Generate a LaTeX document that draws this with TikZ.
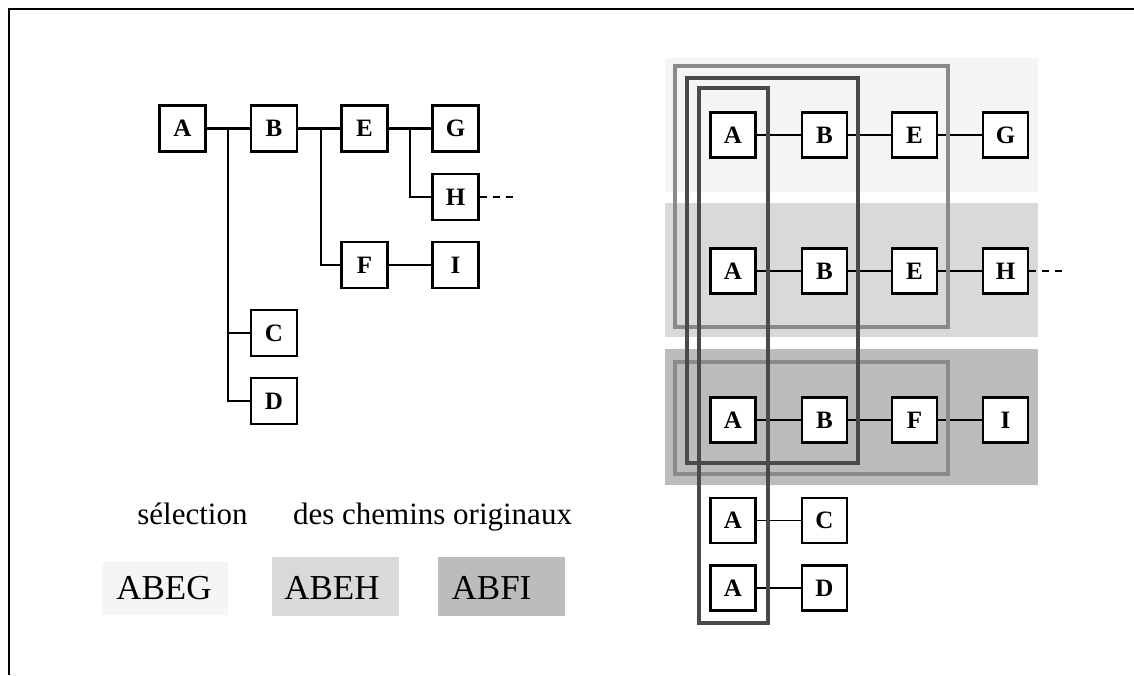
\documentclass[tikz,border=0pt]{standalone}
\usepackage{fontspec}
\setmainfont{Liberation Serif}
\definecolor{bandA}{HTML}{F5F5F5}
\definecolor{bandB}{HTML}{D9D9D9}
\definecolor{bandC}{HTML}{BCBCBC}
\definecolor{outgray}{HTML}{8A8A8A}
\definecolor{outdark}{HTML}{4A4A4A}
\tikzset{
  lbox/.style={draw, fill=white, line width=2.3pt, minimum width=46pt, minimum height=46pt, inner sep=0pt, font=\fontsize{25}{25}\selectfont\bfseries},
  rbox/.style={draw, fill=white, line width=2.1pt, minimum width=45pt, minimum height=45pt, inner sep=0pt, font=\fontsize{25}{25}\selectfont\bfseries},
  lline/.style={line width=2.2pt},
  rline/.style={line width=1.9pt},
  dline/.style={line width=2pt, dash pattern=on 7pt off 6pt},
  caption/.style={inner sep=0pt, anchor=base, font=\fontsize{31}{31}\selectfont},
  pathlbl/.style={inner sep=0pt, anchor=base, font=\fontsize{35}{35}\selectfont},
  outline/.style={line width=3.6pt}
}
\begin{document}
\begin{tikzpicture}[x=1pt,y=-1pt]
\useasboundingbox (0,0) rectangle (1134,675);
% frame
\draw[line width=2.5pt] (9,675) -- (9,9) -- (1134,9);

% ---------- left tree ----------
\node[lbox] (A) at (182.5,128.5) {A};
\node[lbox] (B) at (274,128.5) {B};
\node[lbox] (E) at (364.5,128.5) {E};
\node[lbox] (G) at (455.5,128.5) {G};
\node[lbox] (H) at (455.5,197) {H};
\node[lbox] (F) at (364.5,265) {F};
\node[lbox] (I) at (455.5,265) {I};
\node[lbox] (C) at (274,333) {C};
\node[lbox] (D) at (274,401) {D};
\coordinate (busA) at (228,128.5);
\coordinate (busB) at (321,128.5);
\coordinate (busE) at (410,128.5);
\coordinate (Hend) at (517,197);
\draw[lline] (A) -- (B);
\draw[lline] (busA) |- (D.west);
\draw[lline] (busA |- C) -- (C.west);
\draw[lline] (B) -- (E);
\draw[lline] (busB) |- (F.west);
\draw[lline] (E) -- (G);
\draw[lline] (busE) |- (H.west);
\draw[lline] (F) -- (I);
\draw[dline] (H.east) -- (Hend);

% captions
\node[caption] (sel) at (192.5,524) {sélection};
\node[caption] (des) at (432.5,524) {des chemins originaux};
\fill[bandA] (102,562) rectangle (228,615);
\fill[bandB] (272,557) rectangle (399,616);
\fill[bandC] (438,557) rectangle (565,616);
\node[pathlbl] (p1) at (164,599) {ABEG};
\node[pathlbl] (p2) at (332,599) {ABEH};
\node[pathlbl] (p3) at (491.5,599) {ABFI};

% ---------- right side ----------
\fill[bandA] (665,58) rectangle (1038,192);
\fill[bandB] (665,203) rectangle (1038,337);
\fill[bandC] (665,349) rectangle (1038,485);

\node[rbox] (A1) at (733,135) {A};
\node[rbox] (B1) at (824.5,135) {B};
\node[rbox] (E1) at (914.5,135) {E};
\node[rbox] (G1) at (1005.5,135) {G};
\node[rbox] (A2) at (733,271) {A};
\node[rbox] (B2) at (824.5,271) {B};
\node[rbox] (E2) at (914.5,271) {E};
\node[rbox] (H2) at (1005.5,271) {H};
\node[rbox] (A3) at (733,420) {A};
\node[rbox] (B3) at (824.5,420) {B};
\node[rbox] (F3) at (914.5,420) {F};
\node[rbox] (I3) at (1005.5,420) {I};
\node[rbox] (A4) at (733,520.5) {A};
\node[rbox] (C4) at (824.5,520.5) {C};
\node[rbox] (A5) at (733,588) {A};
\node[rbox] (D5) at (824.5,588) {D};
\coordinate (H2end) at (1068,271);

\draw[rline] (A1) -- (B1) -- (E1) -- (G1);
\draw[rline] (A2) -- (B2) -- (E2) -- (H2);
\draw[rline] (A3) -- (B3) -- (F3) -- (I3);
\draw[rline] (A4) -- (C4);
\draw[rline] (A5) -- (D5);
\draw[dline] (H2.east) -- (H2end);

% selection outlines
\draw[outline, outgray] (675,66) rectangle (948,327);
\draw[outline, outgray] (675,362) rectangle (948,474);
\draw[outline, outdark] (687,78) rectangle (858,463);
\draw[outline, outdark] (699,88) rectangle (768,623);
\end{tikzpicture}
\end{document}
